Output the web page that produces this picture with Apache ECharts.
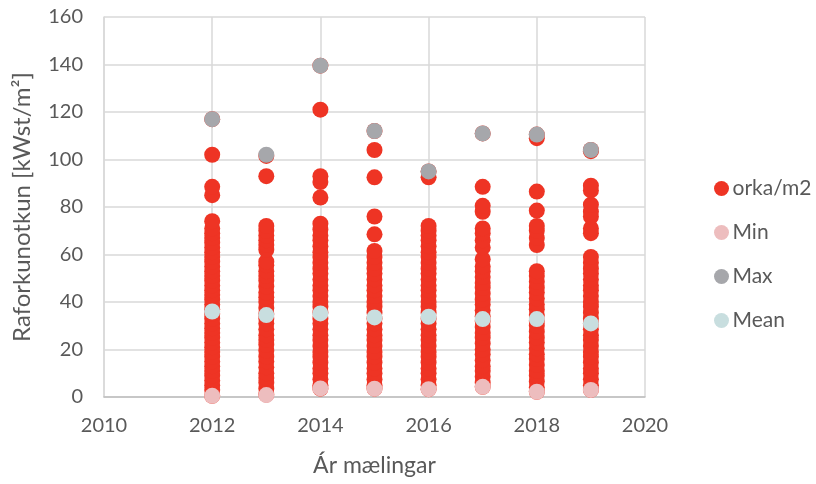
<!DOCTYPE html>
<html>
<head>
<meta charset="utf-8">
<script src="https://cdn.jsdelivr.net/npm/echarts@6/dist/echarts.min.js"></script>
<style>
  html, body { margin: 0; padding: 0; background: #fff; }
  #chart { width: 816px; height: 484px; }
</style>
</head>
<body>
<div id="chart"></div>
<script>
var years = [2012, 2013, 2014, 2015, 2016, 2017, 2018, 2019];

// raw measurements per year (kWst/m2)
var orka2012 = [0.5, 3, 5, 7, 9, 11, 13, 15, 17, 19, 21, 23, 25, 27, 29, 31, 33, 35, 37, 39, 41, 43, 45, 47, 49, 51, 53, 55, 57, 59, 61, 63, 65, 67, 69, 71, 74, 85, 88.5, 102, 117];
var orka2013 = [1, 3.5, 6, 8, 10, 12.5, 15, 17, 19.5, 22, 24, 26, 28.5, 31, 33, 35, 37.5, 40, 42, 44, 46.5, 49, 51, 53, 55.5, 57, 62, 64, 66, 68, 70, 72, 93, 101.5];
var orka2014 = [3.5, 5, 7.5, 10, 12, 14.5, 17, 19, 21.5, 24, 26, 28.5, 31, 33, 35.5, 38, 40, 42.5, 45, 47, 49.5, 52, 54, 56.5, 59, 61, 63.5, 66, 68, 70.5, 73, 84, 90.5, 93, 121, 139.5];
var orka2015 = [3.5, 5, 7.5, 10, 12, 14.5, 17, 19, 21.5, 24, 26, 28.5, 31, 33, 35.5, 38, 40, 42.5, 45, 47, 49.5, 52, 54, 56.5, 59, 61.5, 68.5, 76, 92.5, 104, 112];
var orka2016 = [3.3, 5, 7.5, 10, 12, 14.5, 17, 19, 21.5, 24, 26, 28.5, 31, 33, 35.5, 38, 40, 42.5, 45, 47, 49.5, 52, 54, 56.5, 59, 61, 63.5, 66, 68, 70, 72, 92.5, 95];
var orka2017 = [4.3, 6, 8.5, 11, 13, 15.5, 18, 20, 22.5, 25, 27, 29.5, 32, 34, 36.5, 39, 41, 43.5, 46, 48, 50.5, 53, 55, 58, 63, 66, 69, 71, 78, 80.5, 88.5, 111];
var orka2018 = [2.2, 4, 6.5, 9, 11, 13.5, 16, 18, 20.5, 23, 25, 27.5, 30, 32, 34.5, 37, 39, 41.5, 44, 46, 48.5, 51, 53, 64, 67, 70, 72, 78.5, 86.5, 109, 110.5];
var orka2019 = [3, 5, 7.5, 10, 12, 14.5, 17, 19, 21.5, 24, 26, 28.5, 31, 33, 35.5, 38, 40, 42.5, 45, 47, 49.5, 52, 54, 56.5, 59, 69, 71, 76, 78, 81, 87, 89, 103.5, 104];

var minVals  = [0.5, 0.8, 3.6, 3.5, 3.3, 4.3, 2.2, 3];
var maxVals  = [117, 102, 139.5, 112, 95, 111, 110.5, 104];
var meanVals = [36, 34.5, 35.2, 33.5, 33.8, 32.8, 32.8, 31];

var orkaByYear = [orka2012, orka2013, orka2014, orka2015, orka2016, orka2017, orka2018, orka2019];

function pairs(vals) {
  return vals.map(function (v, i) { return [years[i], v]; });
}
var orkaData = [];
orkaByYear.forEach(function (arr, i) {
  arr.forEach(function (v) { orkaData.push([years[i], v]); });
});

var font = 'Lato, "Open Sans", sans-serif';
var textCol = '#595959';

var option = {
  animation: false,
  backgroundColor: '#fff',
  grid: { left: 104, right: 171, top: 17, bottom: 87 },
  legend: {
    orient: 'vertical',
    left: 709,
    top: 173,
    itemGap: 23,
    itemWidth: 16,
    itemHeight: 15,
    icon: 'circle',
    textStyle: { fontFamily: font, fontSize: 21, color: textCol, padding: [0, 0, 0, -2] },
    data: ['orka/m2', 'Min', 'Max', 'Mean']
  },
  xAxis: {
    type: 'value',
    min: 2010, max: 2020, interval: 2,
    name: 'Ár mælingar',
    nameLocation: 'middle',
    nameGap: 57,
    nameTextStyle: { fontFamily: font, fontSize: 23, color: textCol },
    axisLabel: {
      fontFamily: font, fontSize: 20, color: textCol, margin: 19,
      formatter: function (v) { return String(v); }
    },
    axisLine: { show: true, lineStyle: { color: '#bfbfbf', width: 1.5 } },
    axisTick: { show: false },
    splitLine: { show: true, lineStyle: { color: '#d9d9d9', width: 1.5 } }
  },
  yAxis: {
    type: 'value',
    min: 0, max: 160, interval: 20,
    name: 'Raforkunotkun [kWst/m²]',
    nameLocation: 'middle',
    nameGap: 70,
    nameTextStyle: { fontFamily: font, fontSize: 24, color: textCol },
    axisLabel: { fontFamily: font, fontSize: 20, color: textCol, margin: 21 },
    axisLine: { show: true, lineStyle: { color: '#d9d9d9', width: 1.5 } },
    axisTick: { show: false },
    splitLine: { show: true, lineStyle: { color: '#d9d9d9', width: 1.5 } }
  },
  series: [
    { name: 'orka/m2', type: 'scatter', symbolSize: 16, data: orkaData,
      itemStyle: { color: '#ee3424', opacity: 1 } },
    { name: 'Min', type: 'scatter', symbolSize: 16, data: pairs(minVals),
      itemStyle: { color: '#edbdbe', opacity: 1 } },
    { name: 'Max', type: 'scatter', symbolSize: 16, data: pairs(maxVals),
      itemStyle: { color: '#a6a7ab', opacity: 1 } },
    { name: 'Mean', type: 'scatter', symbolSize: 16, data: pairs(meanVals),
      itemStyle: { color: '#c8dedf', opacity: 1 } }
  ]
};

var chart = echarts.init(document.getElementById('chart'));
chart.setOption(option);
</script>
</body>
</html>
